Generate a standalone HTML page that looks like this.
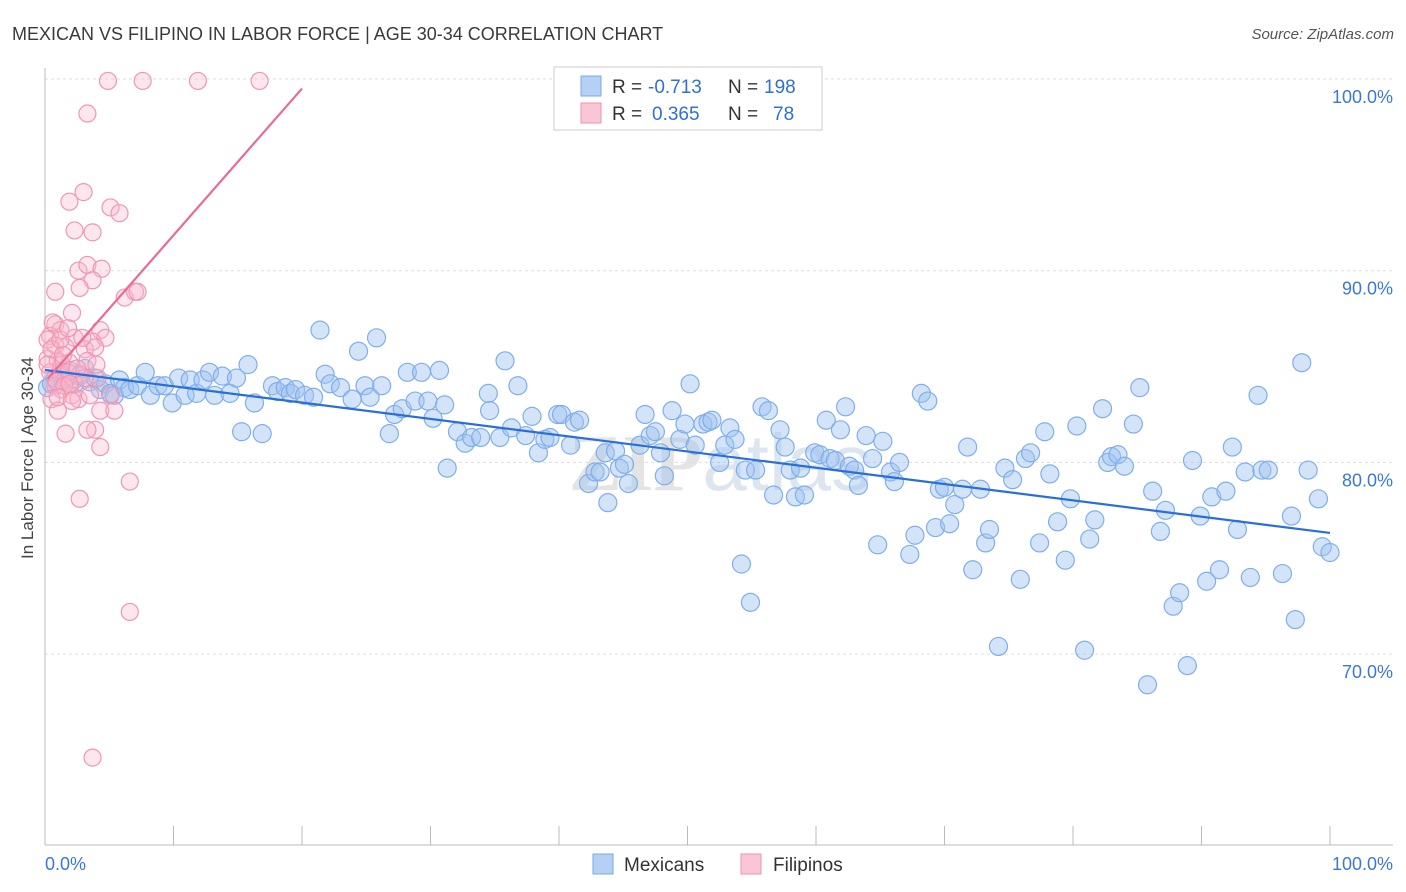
<!DOCTYPE html>
<html><head><meta charset="utf-8"><style>
body{margin:0;background:#fff;font-family:"Liberation Sans",sans-serif;}
#wrap{position:relative;width:1406px;height:892px;overflow:hidden;}
</style></head><body>
<div id="wrap">
<svg id="c" width="1406" height="892">
<text x="12" y="40" font-size="18" fill="#3a3a3a">MEXICAN VS FILIPINO IN LABOR FORCE | AGE 30-34 CORRELATION CHART</text>
<text x="1394" y="39" font-size="15" fill="#555" text-anchor="end" font-style="italic">Source: ZipAtlas.com</text>
<text x="33" y="458" font-size="17" fill="#444" text-anchor="middle" transform="rotate(-90 33 458)">In Labor Force | Age 30-34</text>
<text x="720" y="490" font-size="80" fill="#e4e4e4" text-anchor="middle" font-weight="bold" font-family="Liberation Serif,serif">ZIP<tspan fill="#dde6f0" font-weight="normal" font-family="Liberation Sans,sans-serif">atlas</tspan></text>
<g id="grid"></g><g id="pts"></g><g id="lines"></g>
<g>
<rect x="554" y="67" width="268" height="63" fill="#fff" stroke="#ccc"/>
<rect x="581" y="76" width="20" height="20" fill="#b4d0f4" stroke="#7aaae8"/>
<rect x="581" y="103" width="20" height="20" fill="#f9c6d6" stroke="#f090b0"/>
<text y="93" font-size="19" fill="#333"><tspan x="612">R = </tspan><tspan x="648" fill="#2f6fd6">-0.713</tspan><tspan x="728">N = </tspan><tspan x="764" fill="#2f6fd6">198</tspan></text>
<text y="120" font-size="19" fill="#333"><tspan x="612">R = </tspan><tspan x="652" fill="#2f6fd6">0.365</tspan><tspan x="728">N = </tspan><tspan x="773" fill="#2f6fd6">78</tspan></text>
</g>
<g>
<rect x="593" y="854" width="20" height="20" fill="#b4d0f4" stroke="#7aaae8"/>
<text x="624" y="871" font-size="19" fill="#333">Mexicans</text>
<rect x="741" y="854" width="20" height="20" fill="#f9c6d6" stroke="#f090b0"/>
<text x="773" y="871" font-size="19" fill="#333">Filipinos</text>
</g>
</svg></div>
<script>
const blueX=[0.2,0.5,0.8,1.2,1.6,1.9,2.3,2.7,3.1,3.5,3.9,4.3,4.7,5.1,5.4,5.8,6.2,6.6,7.2,7.8,8.2,8.8,9.3,9.9,10.4,10.9,11.3,11.8,12.3,12.8,13.2,13.8,14.4,14.9,15.3,15.8,16.3,16.9,17.7,18.1,18.7,19.1,19.5,20.2,20.9,21.4,21.8,22.2,23.0,23.9,24.4,24.9,25.3,25.8,26.2,26.8,27.2,27.8,28.2,28.8,29.3,29.8,30.2,30.7,31.1,31.3,32.1,32.7,33.2,33.9,34.5,34.6,35.4,35.8,36.3,36.8,37.4,37.9,38.4,38.9,39.3,39.9,40.2,40.9,41.2,41.6,42.3,42.8,43.2,43.6,43.8,44.4,44.7,45.1,45.4,46.3,46.7,47.1,47.5,47.9,48.2,48.8,49.4,49.8,50.2,50.6,51.2,51.6,51.9,52.5,52.9,53.3,53.7,54.2,54.5,54.9,55.3,55.8,56.3,56.7,57.2,57.6,58.0,58.4,58.8,59.1,59.9,60.3,60.8,61.1,61.5,61.9,62.3,62.6,63.0,63.3,63.9,64.4,64.8,65.2,65.8,66.1,66.5,67.3,67.7,68.2,68.7,69.3,69.6,70.0,70.4,70.8,71.4,71.8,72.2,72.8,73.2,73.5,74.2,74.7,75.3,75.9,76.3,76.7,77.4,77.8,78.2,78.8,79.4,79.8,80.3,80.9,81.3,81.7,82.3,82.7,83.0,83.5,84.0,84.7,85.2,85.8,86.2,86.8,87.2,87.8,88.3,88.9,89.3,89.9,90.4,90.8,91.4,91.9,92.4,92.8,93.4,93.8,94.4,94.7,95.2,96.3,97.0,97.3,97.8,98.3,99.1,99.4,100.0];
const blueY=[83.9,84.1,84.4,84.7,84.3,84.8,84.1,84.5,84.9,84.2,84.4,83.8,84.1,83.6,83.5,84.3,83.9,83.8,84.0,84.7,83.5,84.0,84.0,83.1,84.4,83.5,84.3,83.6,84.3,84.7,83.5,84.5,83.6,84.4,81.6,85.1,83.1,81.5,84.0,83.7,83.9,83.6,83.8,83.5,83.4,86.9,84.6,84.1,83.9,83.3,85.8,84.0,83.4,86.5,84.0,81.5,82.5,82.8,84.7,83.2,84.7,83.2,82.3,84.8,83.0,79.7,81.6,81.0,81.3,81.3,83.6,82.7,81.3,85.3,81.8,84.0,81.4,82.4,80.5,81.2,81.3,82.5,82.5,80.9,82.1,82.2,78.9,79.5,79.5,80.5,77.9,80.6,79.7,79.9,78.9,80.9,82.5,81.4,81.6,80.5,79.3,82.7,81.2,82.0,84.1,80.9,82.0,82.1,82.2,80.0,80.9,81.8,81.2,74.7,79.6,72.7,79.6,82.9,82.7,78.3,81.7,80.8,79.6,78.2,79.7,78.3,80.5,80.4,82.2,80.2,80.1,81.7,82.9,79.8,79.6,78.8,81.4,80.2,75.7,81.1,79.5,79.0,80.0,75.2,76.2,83.6,83.2,76.6,78.6,78.7,76.8,77.8,78.6,80.8,74.4,78.6,75.8,76.5,70.4,79.7,79.1,73.9,80.2,80.5,75.8,81.6,79.4,76.9,74.9,78.1,81.9,70.2,76.0,77.0,82.8,80.0,80.3,80.4,79.8,82.0,83.9,68.4,78.5,76.4,77.5,72.5,73.2,69.4,80.1,77.2,73.8,78.2,74.4,78.5,80.8,76.5,79.5,74.0,83.5,79.6,79.6,74.2,77.2,71.8,85.2,79.6,78.1,75.6,75.3];
const pinkX=[4.9,7.6,11.9,16.7,3.3,1.9,5.1,3.0,5.8,2.3,3.7,2.6,3.3,4.4,3.7,2.7,0.8,6.2,7.0,7.2,2.1,0.8,1.2,4.3,2.3,3.7,4.7,0.4,0.8,1.6,3.1,3.9,0.2,1.0,1.9,3.3,0.4,1.2,1.6,2.3,2.7,4.1,0.8,1.3,2.1,2.6,3.5,0.5,1.0,4.3,5.4,1.6,3.9,4.3,2.7,6.6,6.6,3.7,0.2,0.5,1.3,1.8,0.9,1.5,3.1,1.9,1.0,2.1,5.1,3.3,0.6,1.2,1.8,2.9,0.2,1.4,2.5,4.0];
const pinkY=[99.9,99.9,99.9,99.9,98.2,93.6,93.3,94.1,93.0,92.1,92.0,90.0,90.3,90.1,89.5,89.1,88.9,88.6,88.9,88.9,87.8,87.2,86.9,86.9,86.5,86.3,86.5,86.6,86.1,86.0,85.9,86.0,85.4,85.3,85.2,85.3,84.7,84.6,84.4,84.3,84.6,84.4,84.0,83.8,83.5,83.3,83.5,83.3,82.7,82.7,82.7,81.5,81.7,80.8,78.1,79.0,72.2,64.6,86.4,85.9,85.1,84.7,84.2,84.0,84.4,84.1,83.4,83.2,83.5,81.7,87.3,86.4,87.0,86.5,85.1,85.6,84.9,85.1];
const blueTrend=[84.82,76.32];   // y at x=0 and x=100
const pinkTrend=[84.2,99.5,20];  // y at x=0, y at x=20, end x
const yTicks=[100,90,80,70];
const xTickVals=[0,10,20,30,40,50,60,70,80,90,100];
const sx=v=>45+v*12.85, sy=v=>79+(100-v)*19.17;
const NS='http://www.w3.org/2000/svg';
function mk(tag,attrs,parent){const e=document.createElementNS(NS,tag);for(const k in attrs)e.setAttribute(k,attrs[k]);parent.appendChild(e);return e;}
const grid=document.getElementById('grid');
yTicks.forEach(t=>{
  const l=mk('line',{x1:45,x2:1393,y1:sy(t),y2:sy(t),stroke:'#ddd','stroke-dasharray':'3,3'},grid);
  
  
  const tx=mk('text',{x:1393,y:sy(t)+24,'font-size':18,fill:'#3a78d8','text-anchor':'end'},grid);
  tx.textContent=t.toFixed(1)+'%';
  
  
});
const ax=mk('line',{x1:45,x2:45,y1:68,y2:845,stroke:'#bbb'},grid);


const bx=mk('line',{x1:45,x2:1393,y1:845,y2:845,stroke:'#bbb'},grid);


xTickVals.forEach(t=>{
  const l=mk('line',{x1:sx(t),x2:sx(t),y1:826,y2:845,stroke:'#bbb'},grid);
  
  
});
const xl0=mk('text',{x:45,y:870,'font-size':18,fill:'#3a78d8'},grid);xl0.textContent='0.0%';


const xl1=mk('text',{x:1393,y:870,'font-size':18,fill:'#3a78d8','text-anchor':'end'},grid);xl1.textContent='100.0%';


const pts=document.getElementById('pts');
blueX.forEach((x,i)=>{
  const c=mk('circle',{cx:sx(x),cy:sy(blueY[i]),r:9,fill:'rgba(160,196,240,0.45)',stroke:'#80aeea','stroke-width':1.2},pts);
  
  
});
pinkX.forEach((x,i)=>{
  const c=mk('circle',{cx:sx(x),cy:sy(pinkY[i]),r:8.5,fill:'rgba(248,182,202,0.35)',stroke:'#f096b4','stroke-width':1.2},pts);
  
  
});
const lines=document.getElementById('lines');
const bl=mk('line',{x1:sx(0),y1:sy(blueTrend[0]),x2:sx(100),y2:sy(blueTrend[1]),stroke:'#2a6fd8','stroke-width':2.2},lines);


const pl=mk('line',{x1:sx(0.2),y1:sy(pinkTrend[0]+(pinkTrend[1]-pinkTrend[0])*0.2/20),x2:sx(pinkTrend[2]),y2:sy(pinkTrend[1]),stroke:'#ea6a94','stroke-width':2.2},lines);


</script>
</body></html>
